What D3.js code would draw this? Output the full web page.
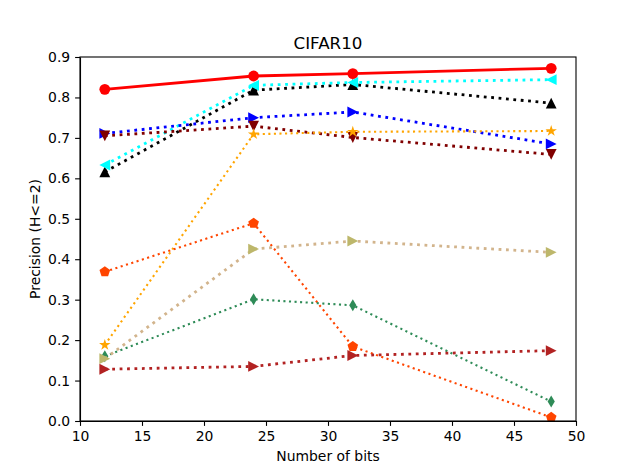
<!DOCTYPE html>
<html>
<head>
<meta charset="utf-8">
<script src="https://cdn.jsdelivr.net/npm/d3@7"></script>
<style>
    body { margin: 0; background: #fff; }
    text { font-family: "DejaVu Sans", sans-serif; fill: #000; }
    .axis path, .axis line { stroke: #000; stroke-width: 1.1px; }
    .axis text { font-size: 13.9px; }
</style>
</head>
<body>
<div class="chart"></div>
<script>
// x values (number of bits) and axis ticks
const bits = [12, 24, 32, 48];
const xTicks = [10, 15, 20, 25, 30, 35, 40, 45, 50];
const yTicks = [0, 0.1, 0.2, 0.3, 0.4, 0.5, 0.6, 0.7, 0.8, 0.9];

// precision values per method
const redValues = [0.820, 0.853, 0.859, 0.872];
const blackValues = [0.616, 0.818, 0.832, 0.786];
const cyanValues = [0.633, 0.830, 0.837, 0.844];
const blueValues = [0.711, 0.750, 0.764, 0.685];
const darkredValues = [0.705, 0.729, 0.701, 0.659];
const orangeValues = [0.188, 0.709, 0.715, 0.717];
const orangeredValues = [0.369, 0.489, 0.184, 0.009];
const greenValues = [0.160, 0.301, 0.286, 0.048];
const tanValues = [0.154, 0.425, 0.445, 0.417];
const firebrickValues = [0.128, 0.135, 0.162, 0.174];

const series = [
    {values: redValues, line: "#ff0000", fill: "#ff0000", marker: "circle", dotted: false, lw: 2.8},
    {values: blackValues, line: "#000000", fill: "#000000", marker: "up", dotted: true, lw: 2.8},
    {values: cyanValues, line: "#00ffff", fill: "#00ffff", marker: "left", dotted: true, lw: 2.8},
    {values: blueValues, line: "#0000ff", fill: "#0000ff", marker: "right", dotted: true, lw: 2.8},
    {values: darkredValues, line: "#800000", fill: "#800000", marker: "down", dotted: true, lw: 2.8},
    {values: orangeValues, line: "#ffa500", fill: "#ffa500", marker: "star", dotted: true, lw: 2.1},
    {values: orangeredValues, line: "#ff4500", fill: "#ff4500", marker: "pentagon", dotted: true, lw: 2.1},
    {values: greenValues, line: "#2e8b57", fill: "#2e8b57", marker: "diamond", dotted: true, lw: 2.1},
    {values: tanValues, line: "#d2b48c", fill: "#bdb76b", marker: "right", dotted: true, lw: 2.8},
    {values: firebrickValues, line: "#b22222", fill: "#b22222", marker: "right", dotted: true, lw: 2.8}
];

// margin
const margin = ({top: 57, right: 64, bottom: 52, left: 80});
const width = 640 - margin.left - margin.right,
    height = 473 - margin.top - margin.bottom;

const svg = d3.select(".chart")
    .append("svg")
    .attr("width", width + margin.left + margin.right)
    .attr("height", height + margin.top + margin.bottom)
    .append("g")
    .attr("transform", "translate(" + margin.left + "," + margin.top + ")");

// scales
const xScale = d3.scaleLinear()
    .domain([10, 50])
    .range([0, width]);

const yScale = d3.scaleLinear()
    .domain([0, 0.9])
    .range([height, 0]);

svg.append("clipPath")
    .attr("id", "plot-clip")
    .append("rect")
    .attr("width", width)
    .attr("height", height);

// marker shapes (matplotlib-like)
function markerPath(type) {
    const s = 5.4;
    if (type === "circle") return d3.symbol(d3.symbolCircle, Math.PI * s * s)();
    if (type === "up") return `M0,${-s}L${s},${s}L${-s},${s}Z`;
    if (type === "down") return `M0,${s}L${s},${-s}L${-s},${-s}Z`;
    if (type === "left") return `M${-s},0L${s},${-s}L${s},${s}Z`;
    if (type === "right") return `M${s},0L${-s},${-s}L${-s},${s}Z`;
    if (type === "diamond") return `M0,${-6}L3.6,0L0,6L-3.6,0Z`;
    if (type === "pentagon") {
        const pts = d3.range(5).map(i => {
            const a = -Math.PI / 2 + i * 2 * Math.PI / 5;
            return [5.6 * Math.cos(a), 5.6 * Math.sin(a)];
        });
        return "M" + pts.join("L") + "Z";
    }
    if (type === "star") {
        const pts = d3.range(10).map(i => {
            const a = -Math.PI / 2 + i * Math.PI / 5;
            const r = i % 2 === 0 ? 6 : 6 * 0.381966;
            return [r * Math.cos(a), r * Math.sin(a)];
        });
        return "M" + pts.join("L") + "Z";
    }
}

const line = d3.line()
    .x((d, i) => xScale(bits[i]))
    .y(d => yScale(d));

const plot = svg.append("g").attr("clip-path", "url(#plot-clip)");

series.forEach(s => {
    const g = plot.append("g");
    g.append("path")
        .datum(s.values)
        .attr("fill", "none")
        .attr("stroke", s.line)
        .attr("stroke-width", s.lw)
        .attr("stroke-dasharray", s.dotted ? (s.lw + "," + (s.lw * 1.65)) : null)
        .attr("d", line);

    g.selectAll(".marker")
        .data(s.values)
        .join("path")
        .attr("class", "marker")
        .attr("transform", (d, i) => "translate(" + xScale(bits[i]) + "," + yScale(d) + ")")
        .attr("fill", s.fill)
        .attr("d", markerPath(s.marker));
});

// axes
const xAxis = d3.axisBottom(xScale)
    .tickValues(xTicks)
    .tickFormat(d3.format("d"))
    .tickSizeInner(4.9)
    .tickSizeOuter(0)
    .tickPadding(4.9);

const yAxis = d3.axisLeft(yScale)
    .tickValues(yTicks)
    .tickFormat(d3.format(".1f"))
    .tickSizeInner(4.9)
    .tickSizeOuter(0)
    .tickPadding(4.9);

svg.append("g")
    .attr("class", "axis x-axis")
    .attr("transform", "translate(0," + height + ")")
    .call(xAxis);

svg.append("g")
    .attr("class", "axis y-axis")
    .call(yAxis);

svg.selectAll(".axis text").attr("font-family", null);

// frame (top and right spines)
svg.append("rect")
    .attr("width", width)
    .attr("height", height)
    .attr("fill", "none")
    .attr("stroke", "#000")
    .attr("stroke-width", 1.1);

// labels
svg.append("text")
    .attr("x", width / 2)
    .attr("y", -8.5)
    .attr("text-anchor", "middle")
    .style("font-size", "16.7px")
    .text("CIFAR10");

svg.append("text")
    .attr("x", width / 2)
    .attr("y", height + 40)
    .attr("text-anchor", "middle")
    .style("font-size", "13.9px")
    .text("Number of bits");

svg.append("text")
    .attr("transform", "translate(-40," + (height / 2) + ") rotate(-90)")
    .attr("text-anchor", "middle")
    .style("font-size", "13.9px")
    .text("Precision (H<=2)");
</script>
</body>
</html>
